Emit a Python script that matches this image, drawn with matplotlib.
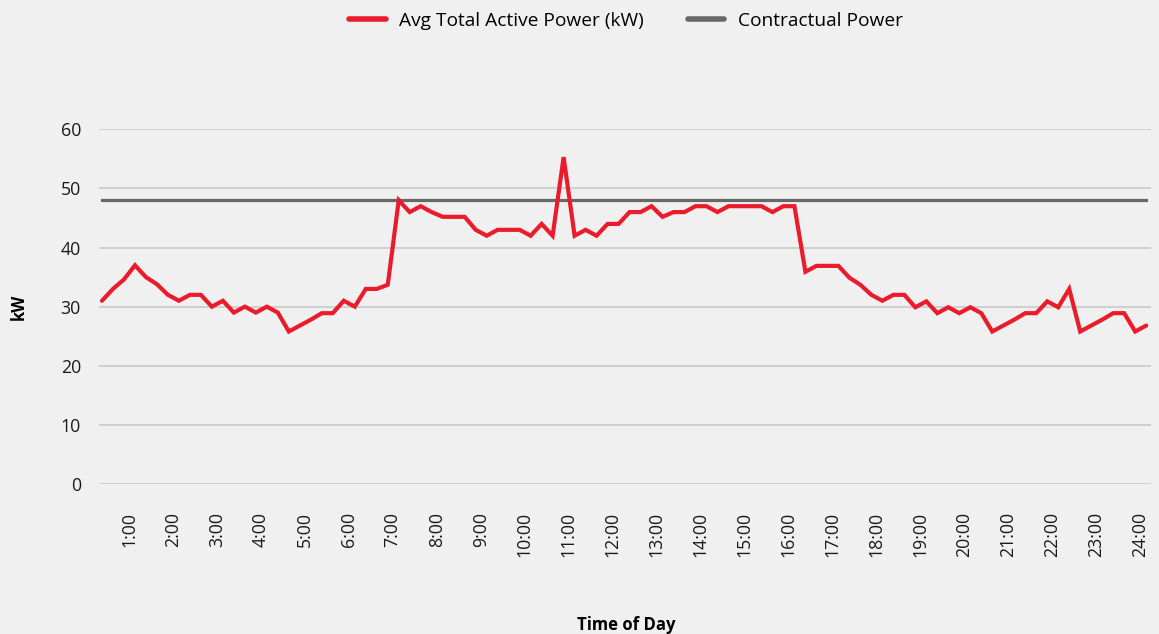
import matplotlib.pyplot as plt
import matplotlib.transforms as mtransforms

# 15-minute averages, first sample at 0:15, last at 24:00
power_kw = [
    31, 33, 34.6, 37, 35, 33.8, 32, 31, 32, 32, 30, 31, 29, 30, 29, 30,
    29, 25.8, 26.8, 27.8, 28.9, 28.9, 31, 30, 33, 33, 33.7, 48, 46, 47, 46, 45.2,
    45.2, 45.2, 43, 42, 43, 43, 43, 42, 44, 42, 55.3, 42, 43, 42, 44, 44,
    46, 46, 47, 45.2, 46, 46, 47, 47, 46, 47, 47, 47, 47, 46, 47, 47,
    35.9, 36.9, 36.9, 36.9, 34.9, 33.7, 32, 31, 32, 32, 29.9, 30.9, 28.9, 29.9, 28.9, 29.9,
    28.9, 25.8, 26.8, 27.8, 28.9, 28.9, 30.9, 29.9, 33, 25.8, 26.8, 27.8, 28.9, 28.9, 25.8, 26.8,
]
hours = [0.25 * (i + 1) for i in range(len(power_kw))]
contract_kw = 48
hour_ticks = list(range(1, 25))
hour_labels = ["{}:00".format(h) for h in hour_ticks]

bg = "#f0f0f0"
red = "#ea1c2b"
grey = "#686868"

plt.rcParams["font.family"] = ["Open Sans", "DejaVu Sans"]

fig = plt.figure(figsize=(11.59, 6.34), dpi=100, facecolor=bg)
ax = fig.add_axes([0.0854, 0.2366, 0.9077, 0.5594], facecolor=bg)

ax.plot(hours, power_kw, color=red, lw=3.0, solid_joinstyle="miter",
        solid_capstyle="round", label="Avg Total Active Power (kW)", zorder=3)
ax.plot(hours, [contract_kw] * len(hours), color=grey, lw=2.3,
        label="Contractual Power", zorder=2)

ax.set_xlim(0.182, 24.11)
ax.set_ylim(0, 60)
ax.set_yticks(range(0, 61, 10))
ax.set_xticks(hour_ticks)
ax.set_xticklabels(hour_labels, rotation=90)
ax.tick_params(length=0, labelsize=12.8, colors="#1a1a1a")
ax.tick_params(axis="y", pad=13)
ax.tick_params(axis="x", pad=20)
shift = mtransforms.ScaledTranslation(-6 / 100, 0, fig.dpi_scale_trans)
for lab in ax.get_xticklabels():
    lab.set_transform(lab.get_transform() + shift)

ax.grid(axis="y", color="#c6c6c6", lw=1.1)
ax.set_axisbelow(True)
for s in ax.spines.values():
    s.set_visible(False)

fig.text(19 / 1159, 1 - 307 / 634, "kW", rotation=90, ha="center", va="center",
         fontweight="bold", fontsize=12)
fig.text(0.54, 1 - 625 / 634, "Time of Day", ha="center", va="center",
         fontweight="bold", fontsize=12)

fig.legend(loc="center", bbox_to_anchor=(0.54, 1 - 21 / 634), ncol=2,
           frameon=False, fontsize=13.8, handlelength=1.9, handletextpad=0.7,
           columnspacing=2.3)
for h in fig.legends[0].get_lines():
    h.set_linewidth(4)
    h.set_solid_capstyle("round")

fig.savefig("out.png", dpi=100, facecolor=bg)
